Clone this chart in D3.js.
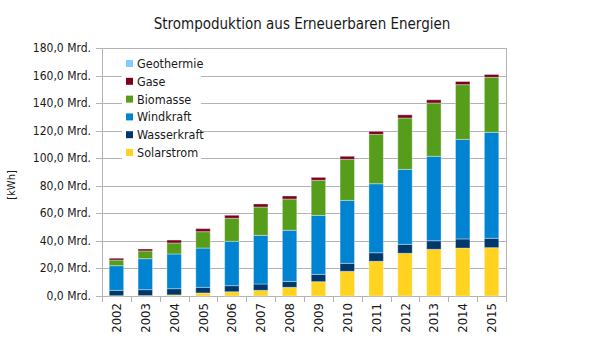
<!DOCTYPE html>
<html>
<head>
<meta charset="utf-8">
<script src="https://cdn.jsdelivr.net/npm/d3@7"></script>
<style>
  body { margin: 0; background: #fff; }
  text { font-family: "DejaVu Sans Condensed", "DejaVu Sans", sans-serif; fill: #1a1a1a; }
</style>
</head>
<body>
<script>
//chart data (Mrd. kWh)
var years = ["2002", "2003", "2004", "2005", "2006", "2007", "2008", "2009", "2010", "2011", "2012", "2013", "2014", "2015"];
var solarstrom  = [0.2, 0.3, 0.8, 2.2, 3.1, 4.1, 6.3, 10.4, 17.9, 25.2, 31.0, 33.9, 34.8, 35.1];
var wasserkraft = [3.9, 4.3, 4.5, 4.1, 4.4, 4.6, 4.3, 5.3, 5.8, 6.2, 6.5, 6.2, 6.6, 6.8];
var windkraft   = [17.9, 22.5, 25.2, 28.5, 32.2, 35.3, 37.1, 42.8, 45.7, 50.1, 54.4, 61.3, 72.3, 76.9];
var biomasse    = [4.1, 5.6, 8.0, 11.9, 16.7, 20.6, 22.7, 25.5, 29.8, 35.8, 37.3, 38.7, 39.7, 39.9];
var gase        = [1.3, 1.4, 2.1, 2.2, 2.2, 2.2, 2.2, 2.1, 2.2, 2.2, 2.4, 2.4, 2.4, 2.2];
var geothermie  = [0.0, 0.0, 0.0, 0.0, 0.0, 0.0, 0.0, 0.0, 0.0, 0.0, 0.1, 0.1, 0.1, 0.1];
var yTicks = [0, 20, 40, 60, 80, 100, 120, 140, 160, 180];

//series from bottom to top of each stack
var seriesNames = ["Solarstrom", "Wasserkraft", "Windkraft", "Biomasse", "Gase", "Geothermie"];
var seriesValues = [solarstrom, wasserkraft, windkraft, biomasse, gase, geothermie];
var colors = ["#ffd320", "#00386b", "#0084d1", "#579d1c", "#7e0021", "#83caff"];

(function(){

var width = 605, height = 340;
var plotLeft = 102, plotRight = 506, plotTop = 48, plotBottom = 296;

var svg = d3.select("body").append("svg")
    .attr("width", width)
    .attr("height", height);

//build table for the stack layout
var table = years.map(function(yr, i){
    var row = {year: yr};
    seriesNames.forEach(function(name, s){ row[name] = seriesValues[s][i]; });
    return row;
});
var stacked = d3.stack().keys(seriesNames)(table);

var x = d3.scaleBand()
    .domain(years)
    .range([plotLeft, plotRight])
    .paddingInner(0.5)
    .paddingOuter(0.25);

var y = d3.scaleLinear()
    .domain([0, 180])
    .range([plotBottom, plotTop]);

//gridlines with short tick stubs left of the axis
svg.append("g").selectAll("line")
    .data(yTicks)
    .enter()
    .append("line")
    .attr("x1", plotLeft - 6)
    .attr("x2", plotRight)
    .attr("y1", function(d){ return Math.round(y(d)) + 0.5; })
    .attr("y2", function(d){ return Math.round(y(d)) + 0.5; })
    .attr("stroke", "#b3b3b3");

//y tick labels
svg.append("g").selectAll("text")
    .data(yTicks)
    .enter()
    .append("text")
    .attr("x", plotLeft - 11)
    .attr("y", function(d){ return y(d) + 4; })
    .attr("text-anchor", "end")
    .style("font-size", "12px")
    .text(function(d){ return d3.format(".1f")(d).replace(".", ",") + " Mrd."; });

//frame: left axis, right border
svg.append("line")
    .attr("x1", plotLeft + 0.5).attr("x2", plotLeft + 0.5)
    .attr("y1", plotTop).attr("y2", plotBottom + 6)
    .attr("stroke", "#b3b3b3");
svg.append("line")
    .attr("x1", plotRight + 0.5).attr("x2", plotRight + 0.5)
    .attr("y1", plotTop).attr("y2", plotBottom + 6)
    .attr("stroke", "#b3b3b3");

//x tick stubs at category boundaries
svg.append("g").selectAll("line")
    .data(years.slice(1))
    .enter()
    .append("line")
    .attr("x1", function(d){ return Math.round(x(d) - x.bandwidth() / 2) + 0.5; })
    .attr("x2", function(d){ return Math.round(x(d) - x.bandwidth() / 2) + 0.5; })
    .attr("y1", plotBottom)
    .attr("y2", plotBottom + 6)
    .attr("stroke", "#b3b3b3");

//legend background box
svg.append("rect")
    .attr("x", 122)
    .attr("y", 54)
    .attr("width", 79)
    .attr("height", 106)
    .attr("fill", "#fff");

//stacked bars
svg.append("g").selectAll("g")
    .data(stacked)
    .enter()
    .append("g")
    .attr("fill", function(d, i){ return colors[i]; })
    .selectAll("rect")
    .data(function(d){ return d; })
    .enter()
    .append("rect")
    .attr("x", function(d){ return x(d.data.year); })
    .attr("width", x.bandwidth())
    .attr("y", function(d){ return y(d[1]); })
    .attr("height", function(d){ return y(d[0]) - y(d[1]); })
    .attr("stroke", "rgba(255,255,255,0.35)")
    .attr("stroke-width", 1);

//year labels, rotated
svg.append("g").selectAll("text")
    .data(years)
    .enter()
    .append("text")
    .attr("transform", function(d){
        return "translate(" + (x(d) + x.bandwidth() / 2 + 4.5) + "," + (plotBottom + 7) + ") rotate(-90)";
    })
    .attr("text-anchor", "end")
    .style("font-size", "13px")
    .text(function(d){ return d; });

//legend, top entry first
var legendNames = seriesNames.slice().reverse();
var legendColors = colors.slice().reverse();
var legend = svg.append("g").selectAll("g")
    .data(legendNames)
    .enter()
    .append("g")
    .attr("transform", function(d, i){ return "translate(126," + (63.5 + i * 17.8) + ")"; });
legend.append("rect")
    .attr("x", 0)
    .attr("y", -3.5)
    .attr("width", 7)
    .attr("height", 7)
    .attr("fill", function(d, i){ return legendColors[i]; });
legend.append("text")
    .attr("x", 11)
    .attr("y", 4.5)
    .style("font-size", "12.5px")
    .text(function(d){ return d; });

//axis title
svg.append("text")
    .attr("transform", "translate(15,185) rotate(-90)")
    .attr("text-anchor", "middle")
    .style("font-size", "11px")
    .text("[kWh]");

//chart title
svg.append("text")
    .attr("x", 302)
    .attr("y", 29)
    .attr("text-anchor", "middle")
    .style("font-size", "15px")
    .text("Strompoduktion aus Erneuerbaren Energien");

})();
</script>
</body>
</html>
